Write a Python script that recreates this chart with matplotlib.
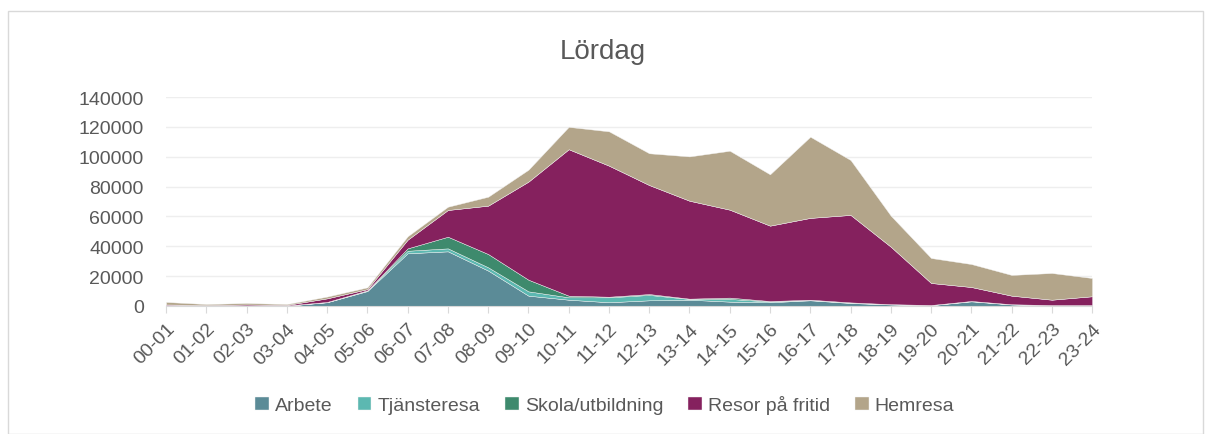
import matplotlib.pyplot as plt
from matplotlib.patches import Rectangle

hours = ['00-01', '01-02', '02-03', '03-04', '04-05', '05-06', '06-07', '07-08',
         '08-09', '09-10', '10-11', '11-12', '12-13', '13-14', '14-15', '15-16',
         '16-17', '17-18', '18-19', '19-20', '20-21', '21-22', '22-23', '23-24']

arbete = [300, 200, 200, 200, 2500, 10000, 35300, 36600, 23700, 6900, 4200, 2500,
          3800, 4200, 2900, 2500, 3800, 2000, 1000, 500, 3100, 1000, 500, 500]
tjansteresa = [100, 50, 50, 50, 100, 300, 1700, 2000, 2200, 2900, 1600, 3300,
               3600, 500, 1800, 500, 200, 200, 100, 100, 200, 100, 50, 50]
skola = [50, 50, 50, 50, 100, 200, 1600, 7800, 8900, 7800, 1100, 400,
         600, 200, 900, 300, 200, 200, 100, 50, 50, 50, 50, 50]
resor = [550, 300, 700, 400, 2400, 800, 5800, 17900, 32400, 65700, 98100, 87800,
         73000, 65600, 58900, 50500, 54800, 58600, 38500, 14750, 9350, 5750, 3600, 5900]
hemresa = [1700, 700, 1000, 600, 1200, 1200, 2300, 2200, 6000, 8000, 15000, 23000,
           21300, 29700, 39500, 34400, 54400, 36800, 20800, 16750, 15400, 13900, 17900, 12250]

labels = ['Arbete', 'Tjänsteresa', 'Skola/utbildning', 'Resor på fritid', 'Hemresa']
colors = ['#5b8b97', '#5cb8b1', '#3e8a6d', '#85215e', '#b3a58a']

plt.rcParams['font.family'] = ['Liberation Sans', 'DejaVu Sans']
text_color = '#595959'

fig = plt.figure(figsize=(12.05, 4.35), dpi=100)
ax = fig.add_axes([0.1378, 0.2943, 0.7685, 0.4804])

x = list(range(len(hours)))
ax.stackplot(x, arbete, tjansteresa, skola, resor, hemresa,
             labels=labels, colors=colors, edgecolor='#f4f4f4', linewidth=0.3)

ax.set_xlim(0, len(hours) - 1)
ax.set_ylim(0, 140000)
ax.set_yticks(range(0, 140001, 20000))
ax.grid(axis='y', color='#eeeeee', linewidth=1)
ax.set_axisbelow(True)
for s in ['top', 'right', 'left']:
    ax.spines[s].set_visible(False)
ax.spines['bottom'].set_color('#d9d9d9')

ax.set_xticks(x)
ax.set_xticklabels(hours, rotation=45, ha='right', rotation_mode='anchor')
ax.tick_params(axis='x', colors='#d9d9d9', labelcolor=text_color, labelsize=14,
               length=5, pad=5)
ax.tick_params(axis='y', length=0, labelcolor=text_color, labelsize=14, pad=16)

fig.text(0.5, 0.88, 'Lördag', ha='center', va='center', fontsize=20, color=text_color)

fig.legend(loc='center', bbox_to_anchor=(0.502, 0.067), ncol=5, frameon=False,
           fontsize=14, labelcolor=text_color, handlelength=0.7, handleheight=0.7,
           handletextpad=0.3, columnspacing=1.3)

fig.patches.append(Rectangle((0.0066, 0.0), 0.9917, 0.972, transform=fig.transFigure,
                             fill=False, edgecolor='#d9d9d9', linewidth=1))

fig.savefig('out.png', dpi=100)
